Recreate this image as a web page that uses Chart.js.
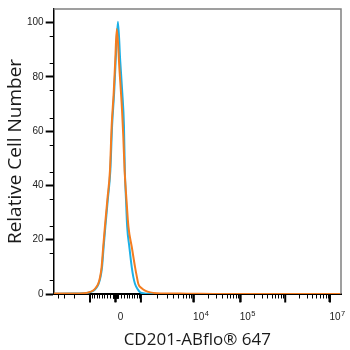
<!DOCTYPE html>
<html>
<head>
<meta charset="utf-8">
<script src="https://cdn.jsdelivr.net/npm/chart.js@4.4.1/dist/chart.umd.min.js"></script>
<style>
  html, body { margin: 0; padding: 0; background: #fff; }
  .chart-box { width: 350px; height: 350px; }
</style>
</head>
<body>
<div class="chart-box"><canvas id="histChart"></canvas></div>
<script>
// x values are in display units of the biexponential axis (decades away from zero)
const blueX = [-1.38, -1.0, -0.72, -0.60, -0.49, -0.43, -0.378, -0.335, -0.30, -0.264, -0.226, -0.17, -0.115, -0.075, -0.03, 0.005, 0.055,
  0.106, 0.153, 0.19, 0.21, 0.235, 0.262, 0.31, 0.364, 0.40, 0.438, 0.50, 0.551, 0.65, 0.73, 1.0, 5.045];
const blueY = [0.1, 0.15, 0.25, 0.5, 1.2, 2.2, 3.7, 6.2, 9.9, 17.4, 24.8, 35, 45.3, 62, 74, 86, 100.3,
  86, 74, 62, 45.3, 35, 24.8, 17.4, 9.9, 6.2, 3.7, 1.7, 0.63, 0.2, 0.07, 0, 0];

const orangeX = [-1.38, -1.0, -0.72, -0.60, -0.50, -0.44, -0.387, -0.345, -0.310, -0.274, -0.236, -0.18, -0.124, -0.085, -0.04, -0.005, 0.03,
  0.09, 0.146, 0.175, 0.205, 0.245, 0.29, 0.364, 0.438, 0.48, 0.512, 0.58, 0.663, 0.78, 0.926, 1.2, 1.449, 1.787, 2.2, 5.045];
const orangeY = [0.15, 0.2, 0.3, 0.6, 1.3, 2.3, 3.7, 6.2, 9.9, 17.4, 24.8, 35, 45.3, 62, 74, 86, 97.6,
  82.5, 68, 58, 45.3, 35, 24.8, 17.4, 9.9, 6.2, 3.7, 2.2, 1.27, 0.6, 0.3, 0.2, 0.15, 0.08, 0, 0];

// axis ticks (real fluorescence values)
const xLabelValues = [0, 1e4, 1e5, 1e7];
const xLabelBase = ['0', '10', '10', '10'];
const xLabelPower = ['', '4', '5', '7'];
const xMajorValues = [-1e3, 0, 1e3, 1e4, 1e5, 1e6, 1e7];

// biexponential (logicle style) transform
const P = 3.3, TOP_POS = 4.798;
function bracket(u) {
  return Math.pow(10, u) - P * P * Math.pow(10, -u / P) + P * P - 1;
}
const K = 1e7 / bracket(TOP_POS);
function toDisplay(v) {
  if (v === 0) return 0;
  let lo = 0, hi = 7;
  const t = Math.abs(v) / K;
  for (let i = 0; i < 60; i++) {
    const mid = (lo + hi) / 2;
    if (bracket(mid) < t) lo = mid; else hi = mid;
  }
  return Math.sign(v) * (lo + hi) / 2;
}

function minorValues() {
  let out = [];
  for (let d = 10; d <= 1e6; d *= 10) {
    for (let m = (d <= 100 ? 1 : 2); m <= 9; m++) {
      out.push(m * d);
      out.push(-m * d);
    }
  }
  return out;
}

const toPoints = (xs, ys) => xs.map((x, i) => ({x: x, y: ys[i]}));
const LABEL_SHIFT = 5;

const axisDecor = {
  id: 'axisDecor',
  afterDraw(chart) {
    const {ctx, chartArea: {left, right, top, bottom}, scales: {x, y}} = chart;
    ctx.save();
    // gray frame on top and right
    ctx.strokeStyle = '#808080';
    ctx.lineWidth = 1.5;
    ctx.beginPath();
    ctx.moveTo(left, top);
    ctx.lineTo(right, top);
    ctx.lineTo(right, bottom);
    ctx.stroke();

    ctx.strokeStyle = '#000';
    // x minor ticks
    ctx.lineWidth = 1;
    ctx.beginPath();
    minorValues().forEach(v => {
      const d = toDisplay(v);
      if (d < x.min || d > x.max) return;
      const px = Math.round(x.getPixelForValue(d)) + 0.5;
      ctx.moveTo(px, bottom);
      ctx.lineTo(px, bottom + 4.5);
    });
    ctx.stroke();
    // x major ticks
    ctx.lineWidth = 2;
    ctx.beginPath();
    xMajorValues.forEach(v => {
      const px = x.getPixelForValue(toDisplay(v));
      ctx.moveTo(px, bottom);
      ctx.lineTo(px, bottom + 8.5);
    });
    ctx.stroke();
    // y minor ticks every 5
    ctx.lineWidth = 1;
    ctx.beginPath();
    for (let v = 5; v < 105; v += 10) {
      const py = Math.round(y.getPixelForValue(v)) + 0.5;
      ctx.moveTo(left, py);
      ctx.lineTo(left - 4, py);
    }
    ctx.stroke();

    // exponents of the decade labels
    const item = x.getLabelItems()[0];
    ctx.fillStyle = '#222';
    ctx.textAlign = 'left';
    ctx.textBaseline = 'alphabetic';
    xLabelValues.forEach((v, i) => {
      if (!xLabelPower[i]) return;
      ctx.font = '10px "Liberation Sans"';
      const w = ctx.measureText(xLabelBase[i]).width;
      const cx = x.getPixelForValue(toDisplay(v)) + LABEL_SHIFT;
      ctx.font = '7.5px "Liberation Sans"';
      ctx.fillText(xLabelPower[i], cx + w / 2 + 0.5, item.options.translation[1] + 5);
    });
    ctx.restore();
  }
};

const ctx = document.getElementById('histChart');
new Chart(ctx, {
  type: 'line',
  data: {
    datasets: [{
      data: toPoints(blueX, blueY),
      borderColor: '#1cb0e6',
      borderWidth: 2,
      pointRadius: 0,
      cubicInterpolationMode: 'monotone',
      fill: false,
      order: 2
    },
    {
      data: toPoints(orangeX, orangeY),
      borderColor: '#f47d20',
      borderWidth: 2,
      pointRadius: 0,
      cubicInterpolationMode: 'monotone',
      fill: false,
      order: 1
    }]
  },
  options: {
    responsive: true,
    maintainAspectRatio: false,
    animation: false,
    layout: {
      padding: {left: 6, top: 9, right: 9, bottom: 1}
    },
    scales: {
      x: {
        type: 'linear',
        min: -1.382,
        max: 5.045,
        afterBuildTicks: scale => {
          scale.ticks = xLabelValues.map(v => ({value: toDisplay(v)}));
        },
        border: {color: '#000', width: 2},
        grid: {drawOnChartArea: false, drawTicks: true, tickLength: 8, tickWidth: 2, tickColor: '#000'},
        ticks: {
          autoSkip: false,
          maxRotation: 0,
          labelOffset: LABEL_SHIFT,
          padding: 9,
          color: '#222',
          font: {size: 10, family: 'Liberation Sans'},
          callback: (val, i) => xLabelBase[i]
        },
        title: {
          display: true,
          text: 'CD201-ABflo\u00AE 647',
          color: '#1a1a1a',
          font: {size: 17, family: 'Open Sans', lineHeight: 1},
          padding: {top: 0, bottom: 0}
        }
      },
      y: {
        min: 0,
        max: 105,
        border: {color: '#000', width: 1.5},
        grid: {drawOnChartArea: false, drawTicks: true, tickLength: 8, tickWidth: 2, tickColor: '#000'},
        ticks: {
          stepSize: 20,
          includeBounds: false,
          padding: 2,
          color: '#222',
          font: {size: 10, family: 'Liberation Sans'}
        },
        title: {
          display: true,
          text: 'Relative Cell Number',
          color: '#1a1a1a',
          font: {size: 19, family: 'Open Sans', lineHeight: 1},
          padding: {top: 0, bottom: 0}
        }
      }
    },
    plugins: {
      legend: {display: false},
      tooltip: {enabled: false}
    }
  },
  plugins: [axisDecor]
});
</script>
</body>
</html>
